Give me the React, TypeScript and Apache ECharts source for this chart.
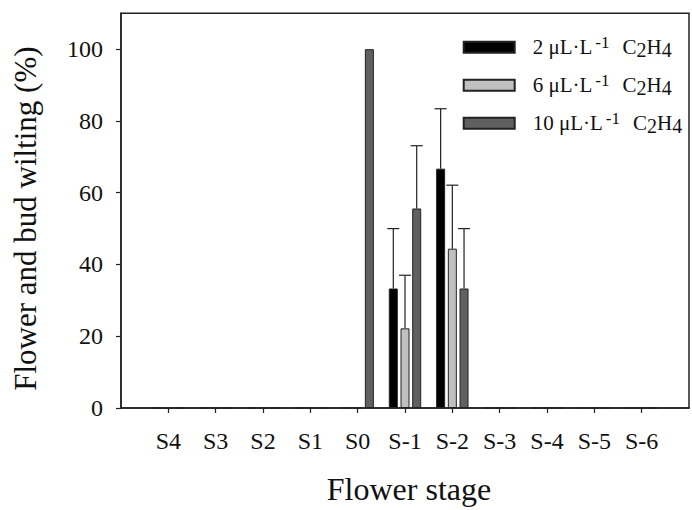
import React, { useEffect, useRef } from "react";
import * as echarts from "echarts";

const categories = ["S4", "S3", "S2", "S1", "S0", "S-1", "S-2", "S-3", "S-4", "S-5", "S-6"];
const doses = ["2", "6", "10"];
const values2 = [0, 0, 0, 0, 0, 33.3, 66.7, 0, 0, 0, 0];
const values6 = [0, 0, 0, 0, 0, 22.2, 44.4, 0, 0, 0, 0];
const values10 = [0, 0, 0, 0, 100, 55.6, 33.3, 0, 0, 0, 0];
const err2 = [0, 0, 0, 0, 0, 16.7, 16.7, 0, 0, 0, 0];
const err6 = [0, 0, 0, 0, 0, 14.8, 17.7, 0, 0, 0, 0];
const err10 = [0, 0, 0, 0, 0, 17.5, 16.7, 0, 0, 0, 0];
const yTicks = [0, 20, 40, 60, 80, 100];
const xTitle = "Flower stage";
const yTitle = "Flower and bud wilting (%)";

const FONT = "Liberation Serif";
const fills = ["#000000", "#c0c0c0", "#606060"];
const BAR_W = 9;
const STEP = 11.7;

export default function App() {
  const ref = useRef<HTMLDivElement>(null);
  useEffect(() => {
    if (!ref.current) return;
    const chart = echarts.init(ref.current, null, { renderer: "svg" });
    const axisData = ["", ...categories, ""];
    const names = doses.map((d) => `${d} μL·L-1 C2H4`);
    const allValues = [values2, values6, values10];
    const allErr = [err2, err6, err10];

    const barSeries = names.map((name, k) => ({
      name,
      type: "bar",
      data: [null, ...allValues[k], null],
      barWidth: BAR_W,
      barGap: "30%",
      itemStyle: { color: fills[k], borderColor: "#222", borderWidth: 1 },
      emphasis: { disabled: true },
    }));

    const errSeries = names.map((name, k) => ({
      type: "custom",
      name: name + " err",
      data: allValues[k]
        .map((v, i) => [i + 1, v, allErr[k][i]])
        .filter((d) => d[2] > 0),
      encode: { x: 0, y: 1 },
      z: 3,
      renderItem: (params: any, api: any) => {
        const x = api.value(0);
        const y = api.value(1);
        const e = api.value(2);
        const p0 = api.coord([x, y]);
        const p1 = api.coord([x, y + e]);
        const cx = p0[0] + (k - 1) * STEP;
        const st = { stroke: "#222", lineWidth: 1.2 };
        return {
          type: "group",
          children: [
            { type: "line", shape: { x1: cx, y1: p0[1], x2: cx, y2: p1[1] }, style: st },
            { type: "line", shape: { x1: cx - 6, y1: p1[1], x2: cx + 6, y2: p1[1] }, style: st },
          ],
        };
      },
    }));

    chart.setOption({
      animation: false,
      backgroundColor: "#ffffff",
      textStyle: { fontFamily: FONT },
      grid: {
        left: 121,
        top: 13.3,
        bottom: 98.3,
        right: -8.6,
        show: true,
        borderColor: "#222",
        borderWidth: 1.5,
        containLabel: false,
      },
      legend: {
        orient: "vertical",
        left: 462.7,
        top: 34.2,
        padding: 0,
        itemWidth: 51,
        itemHeight: 11,
        itemGap: 12,
        icon: "rect",
        data: names,
        selectedMode: false,
        formatter: (name: string) => {
          const d = name.split(" ")[0];
          return `{s|}{t|${d} μL·L}{p|}{sup|-1}{g|}{t|C}{sub|2}{t|H}{sub|4}`;
        },
        textStyle: {
          fontFamily: FONT,
          color: "#111",
          rich: {
            s: { width: 13, lineHeight: 26 },
            p: { width: 3, lineHeight: 26 },
            g: { width: 13, lineHeight: 26 },
            t: { fontFamily: FONT, fontSize: 21, color: "#111", lineHeight: 26, verticalAlign: "middle" },
            sup: { fontFamily: FONT, fontSize: 17, color: "#111", lineHeight: 9, verticalAlign: "top" },
            sub: { fontFamily: FONT, fontSize: 20, color: "#111", lineHeight: 20, verticalAlign: "bottom" },
          },
        },
      },
      xAxis: {
        type: "category",
        data: axisData,
        boundaryGap: false,
        name: xTitle,
        nameLocation: "middle",
        nameGap: 65,
        nameTextStyle: { fontFamily: FONT, fontSize: 32, color: "#111", padding: [0, 0, 0, 8] },
        axisLine: { lineStyle: { color: "#222", width: 1.5 } },
        axisTick: {
          show: true,
          length: 5,
          interval: (i: number) => i !== 0 && i !== axisData.length - 1,
          lineStyle: { color: "#222", width: 1.2 },
        },
        axisLabel: {
          interval: 0,
          margin: 21,
          fontFamily: FONT,
          fontSize: 24,
          color: "#111",
        },
        splitLine: { show: false },
      },
      yAxis: {
        type: "value",
        min: 0,
        max: 110,
        interval: 20,
        name: yTitle,
        nameLocation: "middle",
        nameRotate: 90,
        nameGap: 80,
        nameTextStyle: { fontFamily: FONT, fontSize: 31, color: "#111", padding: [0, 16, 0, 0] },
        axisLine: { show: true, lineStyle: { color: "#222", width: 1.5 } },
        axisTick: {
          show: true,
          length: 5,
          customValues: yTicks,
          lineStyle: { color: "#222", width: 1.2 },
        },
        axisLabel: {
          customValues: yTicks,
          margin: 18,
          fontFamily: FONT,
          fontSize: 24,
          color: "#111",
        },
        splitLine: { show: false },
      },
      series: [...barSeries, ...errSeries],
    });
    return () => chart.dispose();
  }, []);
  return (
    <div
      ref={ref}
      style={{ position: "absolute", left: 0, top: 0, width: 692, height: 510, overflow: "hidden" }}
    />
  );
}
